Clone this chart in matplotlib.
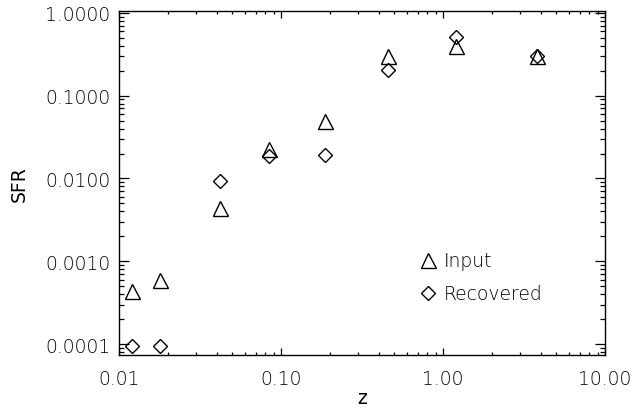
import matplotlib
matplotlib.use('Agg')
import matplotlib.pyplot as plt
from matplotlib.ticker import FixedLocator, LogLocator, NullFormatter

# redshift bins
z_input = [0.0120, 0.0180, 0.0420, 0.0847, 0.187, 0.459, 1.21, 3.82]
z_recov = [0.0120, 0.0180, 0.0420, 0.0847, 0.187, 0.459, 1.21, 3.82]

# star formation rate, input vs. recovered
sfr_input = [4.4e-4, 6.0e-4, 4.4e-3, 0.0227, 0.0495, 0.302, 0.394, 0.302]
sfr_recov = [9.5e-5, 9.5e-5, 9.4e-3, 0.0185, 0.0194, 0.205, 0.517, 0.300]

x_ticks = [0.01, 0.1, 1.0, 10.0]
x_ticklabels = ['0.01', '0.10', '1.00', '10.00']
y_ticks = [1e-4, 1e-3, 1e-2, 1e-1, 1.0]
y_ticklabels = ['0.0001', '0.0010', '0.0100', '0.1000', '1.0000']

plt.rcParams['font.family'] = ['DejaVu Sans']
plt.rcParams['font.weight'] = 'light'
plt.rcParams['font.size'] = 13.5
plt.rcParams['text.color'] = 'black'

fig = plt.figure(figsize=(6.34, 4.10), dpi=100)
ax = fig.add_axes([0.1877, 0.1317, 0.7666, 0.839])

ax.plot(z_input, sfr_input, linestyle='none', marker='^', markersize=10.8,
        markerfacecolor='none', markeredgecolor='black', markeredgewidth=1.0,
        label='Input')
ax.plot(z_recov, sfr_recov, linestyle='none', marker='D', markersize=7.0,
        markerfacecolor='none', markeredgecolor='black', markeredgewidth=1.0,
        label='Recovered')

ax.set_xscale('log')
ax.set_yscale('log')
ax.set_xlim(0.01, 10.0)
ax.set_ylim(7.4e-5, 1.05)

ax.xaxis.set_major_locator(FixedLocator(x_ticks))
ax.set_xticklabels(x_ticklabels)
ax.yaxis.set_major_locator(FixedLocator(y_ticks))
ax.set_yticklabels(y_ticklabels)
ax.xaxis.set_minor_locator(LogLocator(base=10, subs=range(2, 10), numticks=20))
ax.yaxis.set_minor_locator(LogLocator(base=10, subs=range(2, 10), numticks=20))
ax.xaxis.set_minor_formatter(NullFormatter())
ax.yaxis.set_minor_formatter(NullFormatter())

ax.tick_params(which='both', direction='in', top=True, right=True, width=0.9,
               labelcolor='black')
ax.tick_params(axis='x', which='major', length=5, pad=10)
ax.tick_params(axis='x', which='minor', length=2.3)
ax.tick_params(axis='y', which='major', length=7, pad=6)
ax.tick_params(axis='y', which='minor', length=3.6)
for s in ax.spines.values():
    s.set_linewidth(1.0)

ax.set_xlabel('z', labelpad=0)
ax.set_ylabel('SFR', labelpad=12)

ax.legend(loc='lower left', bbox_to_anchor=(0.6, 0.128), frameon=False,
          handletextpad=0.25, labelspacing=0.75, borderaxespad=0, handlelength=1.1)

fig.savefig('out.png', dpi=100)
